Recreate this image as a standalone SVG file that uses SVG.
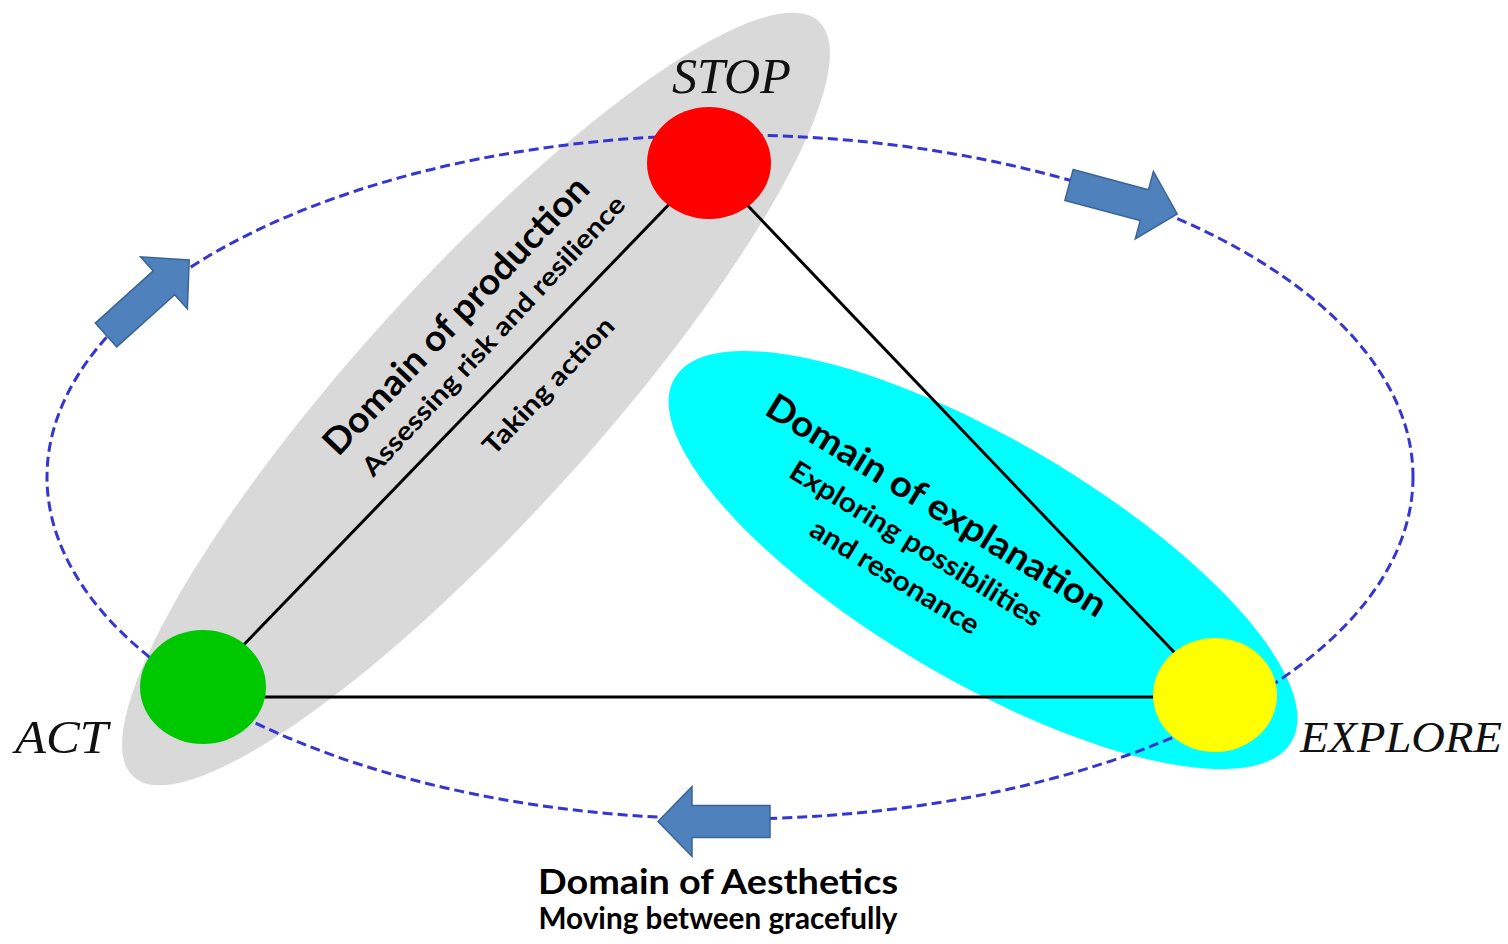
<svg xmlns="http://www.w3.org/2000/svg" width="1508" height="944" viewBox="0 0 1508 944">
  <style>
    .domain { stroke: none; }
    .cycle { fill: none; stroke: #3535d2; stroke-width: 3; stroke-dasharray: 10 5; }
    .edge { stroke: #000; stroke-width: 3; fill: none; }
    .flow { fill: #4f81bd; stroke: #3a6496; stroke-width: 1.5; }
    .state { font-family: "Liberation Serif", serif; font-style: italic; fill: #111; }
    .lbl { font-family: Lato, "Open Sans", sans-serif; fill: #000; text-anchor: middle; }
    .head { font-weight: 700; }
    .sub { font-weight: 700; }
  </style>
  <defs>
    <!-- block arrow, back edge at x=0, tip at x=112 -->
    <path id="blockArrow" d="M0,-16 L78,-16 L78,-35 L112,0 L78,35 L78,16 L0,16 Z"/>
  </defs>

  <!-- domain regions -->
  <g id="domain-production">
    <ellipse class="domain" fill="#d9d9d9" cx="0" cy="0" rx="510" ry="120" transform="translate(476,399) rotate(-47.8)"/>
  </g>
  <g id="domain-explanation">
    <ellipse class="domain" fill="#00ffff" cx="0" cy="0" rx="358" ry="120" transform="translate(983,560) rotate(30.5)"/>
  </g>

  <!-- connectors: cycle, triangle edges, flow arrows -->
  <g id="connectors">
    <ellipse class="cycle" cx="730" cy="477" rx="683" ry="342"/>
    <line class="edge" x1="708" y1="164" x2="203" y2="687"/>
    <line class="edge" x1="708" y1="164" x2="1215" y2="695"/>
    <line class="edge" x1="203" y1="697" x2="1215" y2="697"/>
    <use href="#blockArrow" class="flow" transform="translate(106,335) rotate(-42)"/>
    <use href="#blockArrow" class="flow" transform="translate(1069,185) rotate(15)"/>
    <use href="#blockArrow" class="flow" transform="translate(770,821.5) rotate(180)"/>
  </g>

  <g id="node-stop">
    <ellipse cx="709" cy="163" rx="62" ry="56" fill="#ff0000"/>
    <text class="state" x="672" y="93" font-size="50" textLength="119" lengthAdjust="spacingAndGlyphs">STOP</text>
  </g>
  <g id="node-act">
    <ellipse cx="203" cy="687" rx="63" ry="57" fill="#00c800"/>
    <text class="state" x="15" y="753" font-size="47" textLength="93" lengthAdjust="spacingAndGlyphs">ACT</text>
  </g>
  <g id="node-explore">
    <ellipse cx="1215" cy="695" rx="62" ry="57" fill="#ffff00"/>
    <text class="state" x="1300" y="752" font-size="45" textLength="202" lengthAdjust="spacingAndGlyphs">EXPLORE</text>
  </g>

  <g id="label-production">
    <text class="lbl head" font-size="36" transform="translate(465,324) rotate(-46.5)" textLength="368" lengthAdjust="spacingAndGlyphs">Domain of production</text>
    <text class="lbl sub" font-size="26" transform="translate(500,342) rotate(-47)" textLength="372" lengthAdjust="spacingAndGlyphs">Assessing risk and resilience</text>
    <text class="lbl sub" font-size="26" transform="translate(555,392) rotate(-46.5)" textLength="178" lengthAdjust="spacingAndGlyphs">Taking action</text>
  </g>

  <g id="label-explanation">
    <text class="lbl head" font-size="36" transform="translate(930,516) rotate(31.5)" textLength="392" lengthAdjust="spacingAndGlyphs">Domain of explanation</text>
    <text class="lbl sub" font-size="28" transform="translate(911,552) rotate(31.5)" textLength="290" lengthAdjust="spacingAndGlyphs">Exploring possibilities</text>
    <text class="lbl sub" font-size="28" transform="translate(890,585) rotate(31.5)" textLength="193" lengthAdjust="spacingAndGlyphs">and resonance</text>
  </g>

  <g id="label-aesthetics">
    <text class="lbl head" x="718" y="894" font-size="34" textLength="360" lengthAdjust="spacingAndGlyphs">Domain of Aesthetics</text>
    <text class="lbl sub" x="718" y="929" font-size="30" textLength="359" lengthAdjust="spacingAndGlyphs">Moving between gracefully</text>
  </g>
</svg>
